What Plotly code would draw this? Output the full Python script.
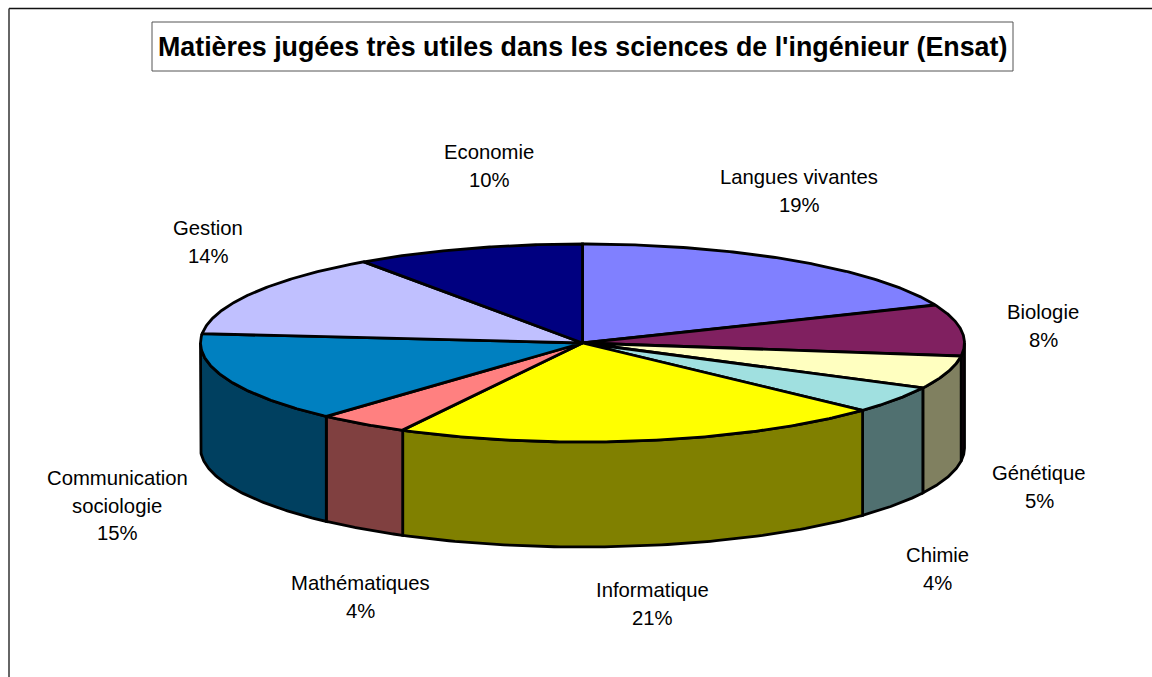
import numpy as np
import plotly.graph_objects as go

# --- data ---
categories = ["Langues vivantes", "Biologie", "Génétique", "Chimie", "Informatique",
              "Mathématiques", "Communication<br>sociologie", "Gestion", "Economie"]
values = [18.7, 8.4, 5.4, 4.4, 20.9, 3.9, 14.8, 13.8, 9.7]
title_text = "Matières jugées très utiles dans les sciences de l'ingénieur (Ensat)"

# --- styling ---
top_colors = ["#8080FF", "#802060", "#FFFFC0", "#A0E0E0", "#FFFF00",
              "#FF8080", "#0080C0", "#C0C0FF", "#000080"]
side_colors = ["#404080", "#401030", "#808060", "#507070", "#808000",
               "#804040", "#004060", "#606080", "#000040"]
label_x = [799, 1043, 1039, 937, 652, 360, 117, 208, 489]
label_y = [177, 312, 473, 555, 590, 583, 478, 228, 152]
LINE_STEP = 27.6
CX, CY, RX, RY, DEPTH = 582.5, 343.0, 382.0, 99.0, 105.0
FONT = "Liberation Sans, Arial, sans-serif"
EDGE = dict(color="black", width=2.8)


def ellipse(theta):
    # theta is clockwise from twelve o'clock, in radians
    return CX + RX * np.sin(theta), CY - RY * np.cos(theta)


cum = np.concatenate([[0], np.cumsum(values)]) / sum(values) * 2 * np.pi
fig = go.Figure()

# rims: only the part of each slice that faces the viewer
for i in range(len(values)):
    a, b = max(cum[i], np.pi / 2), min(cum[i + 1], 3 * np.pi / 2)
    if b <= a:
        continue
    t = np.linspace(a, b, 80)
    x, y = ellipse(t)
    fig.add_trace(go.Scatter(
        x=np.concatenate([x, x[::-1], x[:1]]),
        y=np.concatenate([y, y[::-1] + DEPTH, y[:1]]),
        mode="lines", fill="toself", fillcolor=side_colors[i], line=EDGE,
        hoverinfo="skip", showlegend=False))

# top faces
for i, name in enumerate(categories):
    t = np.linspace(cum[i], cum[i + 1], 120)
    x, y = ellipse(t)
    fig.add_trace(go.Scatter(
        x=np.concatenate([[CX], x, [CX]]),
        y=np.concatenate([[CY], y, [CY]]),
        mode="lines", fill="toself", fillcolor=top_colors[i], line=EDGE,
        name=name.replace("<br>", " "), showlegend=False,
        hovertemplate=f"{name}: {values[i]}%<extra></extra>"))

# slice labels, one annotation per line so the line spacing can be matched
for i, name in enumerate(categories):
    lines = name.split("<br>") + [f"{round(values[i])}%"]
    for k, line in enumerate(lines):
        fig.add_annotation(x=label_x[i], y=label_y[i] + k * LINE_STEP, text=line,
                           showarrow=False, xanchor="center", yanchor="middle",
                           font=dict(family=FONT, size=20.3, color="black"))

# title
fig.add_shape(type="rect", x0=152, x1=1013, y0=22, y1=71,
              line=dict(color="#555555", width=1), fillcolor="white")
fig.add_annotation(x=582.5, y=46.5, text=f"<b>{title_text}</b>", showarrow=False,
                   xanchor="center", yanchor="middle",
                   font=dict(family=FONT, size=26.8, color="black"))

# chart frame, cut off by the window at right and bottom
fig.add_shape(type="line", x0=9, x1=1152, y0=8.5, y1=8.5, line=dict(color="#111111", width=1.5))
fig.add_shape(type="line", x0=9, x1=9, y0=8.5, y1=677, line=dict(color="#333333", width=1.5))

fig.update_xaxes(range=[0, 1152], visible=False, fixedrange=True)
fig.update_yaxes(range=[677, 0], visible=False, fixedrange=True)
fig.update_layout(width=1152, height=677, autosize=False,
                  margin=dict(l=0, r=0, t=0, b=0),
                  paper_bgcolor="white", plot_bgcolor="white", showlegend=False)
fig.write_html("out.html", config={"displayModeBar": False},
               post_script="document.body.style.margin='0';document.documentElement.style.overflow='hidden';")
